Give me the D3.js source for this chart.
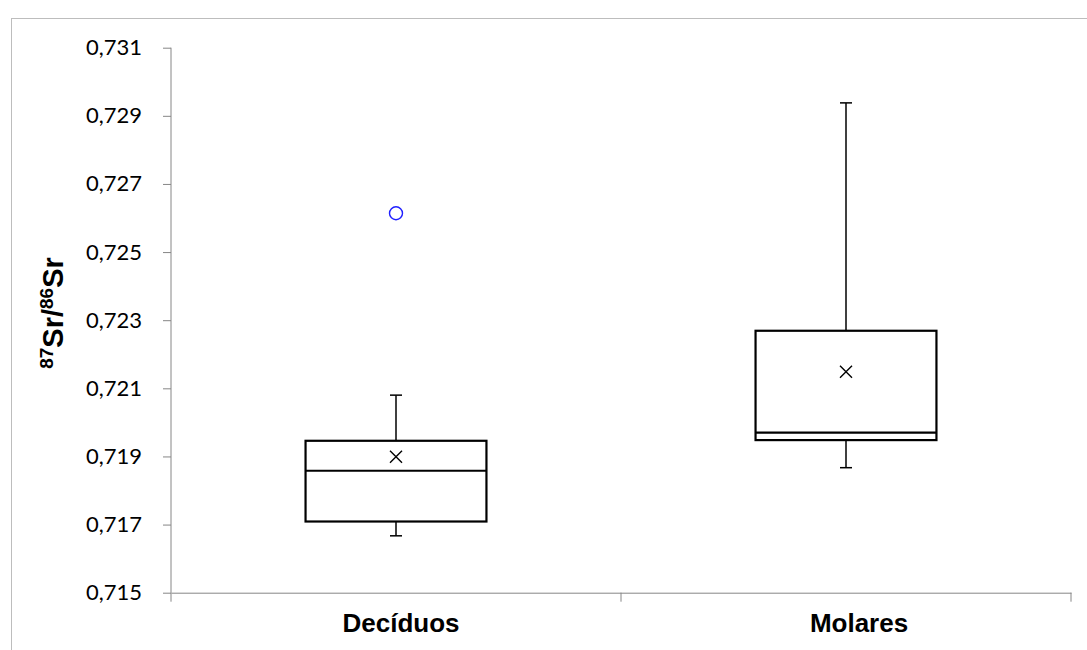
<!DOCTYPE html>
<html>
<head>
<meta charset="utf-8">
<script src="https://cdn.jsdelivr.net/npm/d3@7"></script>
<style>
  html, body { margin: 0; padding: 0; background: #fff; }
  svg { display: block; }
</style>
</head>
<body>
<svg id="chart" width="1087" height="650"></svg>
<script>
// ---- data ----
const categories   = ["Decíduos", "Molares"];
const whiskerLow   = [0.71667, 0.71867];
const q1           = [0.71709, 0.71948];
const median       = [0.71858, 0.71970];
const q3           = [0.71946, 0.72269];
const whiskerHigh  = [0.72080, 0.72938];
const mean         = [0.71899, 0.72149];
const outliers     = [[0.72614], []];
const yTicks       = [0.715, 0.717, 0.719, 0.721, 0.723, 0.725, 0.727, 0.729, 0.731];

const svg = d3.select("#chart");

// outer chart border (extends beyond the image at right/bottom)
svg.append("rect")
  .attr("x", 11.5).attr("y", 18.5)
  .attr("width", 1200).attr("height", 800)
  .attr("fill", "none").attr("stroke", "#bdbdbd").attr("stroke-width", 1);

const x = d3.scaleBand().domain(categories).range([171, 1071]).padding(0);
const y = d3.scaleLinear().domain([0.715, 0.731]).range([592.7, 47.7]);

const axisColor = "#868686";

// Y axis
const yAxis = svg.append("g")
  .attr("transform", "translate(171,0)")
  .call(d3.axisLeft(y).tickValues(yTicks).tickSize(8).tickSizeOuter(0)
        .tickPadding(21)
        .tickFormat(d => d3.format(".3f")(d).replace(".", ",")));
yAxis.select(".domain").attr("stroke", axisColor).attr("d", `M0,${y(0.731)}V${y(0.715) + 9}`);
yAxis.selectAll(".tick line").attr("stroke", axisColor);
yAxis.selectAll(".tick text")
  .attr("fill", "#000")
  .style("font-family", "Lato, 'Open Sans', sans-serif")
  .style("font-size", "22px");

// X axis: line + ticks at band boundaries, labels at centers
const labelShift = { "Decíduos": 5, "Molares": 13 };
const xAxis = svg.append("g").attr("transform", `translate(0,${y(0.715)})`)
  .call(d3.axisBottom(x).tickSize(0).tickSizeOuter(0).tickPadding(21));
xAxis.select(".domain").attr("stroke", axisColor);
xAxis.selectAll(".tick text")
  .attr("fill", "#000")
  .attr("dx", d => labelShift[d] || 0)
  .style("font-family", "'Liberation Sans', Arial, sans-serif")
  .style("font-size", "26px")
  .style("font-weight", "bold");
const boundaries = categories.slice(1).map(c => x(c)).concat([x(categories[categories.length - 1]) + x.bandwidth()]);
xAxis.selectAll(".bticks").data(boundaries).enter().append("line")
  .attr("x1", d => d).attr("x2", d => d)
  .attr("y1", 0).attr("y2", 9)
  .attr("stroke", axisColor);

// Y axis title
const yTitle = svg.append("text")
  .attr("transform", "translate(63,313) rotate(-90)")
  .attr("text-anchor", "middle")
  .style("font-family", "'Liberation Sans', Arial, sans-serif")
  .style("font-weight", "bold")
  .style("font-size", "29px")
  .attr("fill", "#000");
yTitle.append("tspan").text("87").style("font-size", "19px").attr("dy", "-10");
yTitle.append("tspan").text("Sr/").attr("dy", "10");
yTitle.append("tspan").text("86").style("font-size", "19px").attr("dy", "-10");
yTitle.append("tspan").text("Sr").attr("dy", "10");

// boxes
const boxW = x.bandwidth() * 0.402;
const capW = 12;
const g = svg.append("g");
categories.forEach((c, i) => {
  const cx = x(c) + x.bandwidth() / 2;
  // whiskers
  g.append("line").attr("x1", cx).attr("x2", cx)
    .attr("y1", y(q3[i])).attr("y2", y(whiskerHigh[i]))
    .attr("stroke", "#000").attr("stroke-width", 1.5);
  g.append("line").attr("x1", cx).attr("x2", cx)
    .attr("y1", y(q1[i])).attr("y2", y(whiskerLow[i]))
    .attr("stroke", "#000").attr("stroke-width", 1.5);
  g.append("line").attr("x1", cx - capW / 2).attr("x2", cx + capW / 2)
    .attr("y1", y(whiskerHigh[i])).attr("y2", y(whiskerHigh[i]))
    .attr("stroke", "#000").attr("stroke-width", 1.5);
  g.append("line").attr("x1", cx - capW / 2).attr("x2", cx + capW / 2)
    .attr("y1", y(whiskerLow[i])).attr("y2", y(whiskerLow[i]))
    .attr("stroke", "#000").attr("stroke-width", 1.5);
  // box
  g.append("rect")
    .attr("x", cx - boxW / 2).attr("width", boxW)
    .attr("y", y(q3[i])).attr("height", y(q1[i]) - y(q3[i]))
    .attr("fill", "#fff").attr("stroke", "#000").attr("stroke-width", 2.2);
  // median
  g.append("line").attr("x1", cx - boxW / 2).attr("x2", cx + boxW / 2)
    .attr("y1", y(median[i])).attr("y2", y(median[i]))
    .attr("stroke", "#000").attr("stroke-width", 2.2);
  // mean marker (x)
  const m = y(mean[i]), s = 6;
  g.append("path")
    .attr("d", `M${cx - s},${m - s}L${cx + s},${m + s}M${cx - s},${m + s}L${cx + s},${m - s}`)
    .attr("stroke", "#000").attr("stroke-width", 1.4).attr("fill", "none");
  // outliers
  outliers[i].forEach(v => {
    g.append("circle").attr("cx", cx).attr("cy", y(v)).attr("r", 6.5)
      .attr("fill", "none").attr("stroke", "#1f1fff").attr("stroke-width", 1.4);
  });
});
</script>
</body>
</html>
